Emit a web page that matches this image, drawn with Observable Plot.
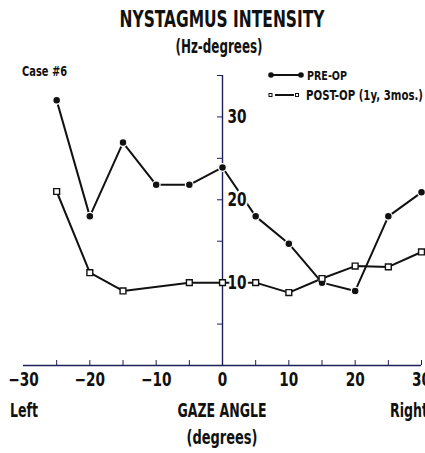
<!DOCTYPE html>
<html><head><meta charset="utf-8">
<script src="https://cdn.jsdelivr.net/npm/d3@7"></script>
<script src="https://cdn.jsdelivr.net/npm/@observablehq/plot@0.6"></script>
<style>
html,body{margin:0;padding:0;background:#fff;}
</style>
</head><body>
<script>
const angles = [-25, -20, -15, -10, -5, 0, 5, 10, 15, 20, 25, 30];
const preOp  = [32.0, 18.0, 26.9, 21.8, 21.8, 23.9, 18.0, 14.7, 10.0, 9.0, 18.0, 20.9];
const postOp = [21.0, 11.2, 9.0, null, 10.0, 10.0, 10.0, 8.8, 10.5, 12.0, 11.9, 13.7];
const xTickLabels = [-30, -20, -10, 0, 10, 20, 30];
const xMinorTicks = [-25, -20, -15, -10, -5, 5, 10, 15, 20, 25, 30];
const yTickLabels = [10, 20, 30];
const yMinorTicks = [5, 10, 15, 20, 25, 30, 35];
const legendLabels = ["PRE-OP", "POST-OP (1y, 3mos.)"];
const titleText = "NYSTAGMUS INTENSITY";
const subtitleText = "(Hz-degrees)";
const caseText = "Case #6";
const xLabelText = "GAZE ANGLE";
const xUnitText = "(degrees)";
const leftText = "Left";
const rightText = "Right";

const pre = angles.map((a, i) => ({angle: a, value: preOp[i]}));
const post = angles.map((a, i) => ({angle: a, value: postOp[i]})).filter(d => d.value != null);

const FONT = "'Liberation Sans Narrow', 'DejaVu Sans Condensed', 'Liberation Sans', sans-serif";
const NAVY = "#1c1f5c";
const fmt = d => d < 0 ? "\u2212" + (-d) : String(d);

const svg = Plot.plot({
  width: 425, height: 453,
  marginLeft: 23, marginRight: 4, marginTop: 75, marginBottom: 88,
  x: {domain: [-30, 30], axis: null},
  y: {domain: [0, 35], axis: null},
  style: {fontFamily: FONT, background: "white", overflow: "visible"},
  marks: [
    Plot.ruleY([0], {stroke: NAVY, strokeWidth: 1.6}),
    Plot.ruleX([0], {y1: 0, y2: 35, stroke: NAVY, strokeWidth: 1.4}),
    Plot.ruleX(xMinorTicks, {x: d => d, y1: 0, y2: 0.6, stroke: NAVY, strokeWidth: 1}),
    Plot.ruleY(yMinorTicks, {y: d => d, x1: -0.75, x2: 0, stroke: NAVY, strokeWidth: 1}),
    Plot.line(pre, {x: "angle", y: "value", stroke: "#111", strokeWidth: 2}),
    Plot.line(post, {x: "angle", y: "value", stroke: "#111", strokeWidth: 2}),
    Plot.dot(pre, {x: "angle", y: "value", r: 3.9, fill: "#111", stroke: "white", strokeWidth: 1.3}),
    Plot.dot(post, {x: "angle", y: "value", symbol: "square", r: 3.3, fill: "white", stroke: "#111", strokeWidth: 1.4}),
    Plot.text(yTickLabels, {x: 0, y: d => d, text: d => String(d), dx: 5, textAnchor: "start",
      fontSize: 19, fontWeight: "bold", fill: "#111", stroke: "white", strokeWidth: 5}),
    Plot.text(xTickLabels, {x: d => d, y: 0, text: fmt, dy: 7, lineAnchor: "top",
      fontSize: 19, fontWeight: "bold", fill: "#111"})
  ]
});
document.body.append(svg);

// compress Plot tick labels horizontally (condensed typeface look)
d3.select(svg).selectAll("text").each(function() {
  const w = this.getComputedTextLength();
  this.setAttribute("textLength", (w * 0.8).toFixed(1));
  this.setAttribute("lengthAdjust", "spacingAndGlyphs");
});

const s = d3.select(svg);
function label(txt, x, y, size, width, anchor) {
  s.append("text").attr("x", x).attr("y", y)
    .attr("text-anchor", anchor || "middle")
    .attr("font-family", FONT).attr("font-weight", "bold")
    .attr("font-size", size).attr("fill", "#111")
    .attr("textLength", width).attr("lengthAdjust", "spacingAndGlyphs")
    .text(txt);
}
label(titleText, 222, 27, 23, 205);
label(subtitleText, 219, 53, 19, 87);
label(caseText, 22, 76, 14, 45, "start");
label(leftText, 10, 417, 19, 28, "start");
label(xLabelText, 222, 417, 19, 89);
label(rightText, 390, 417, 19, 38, "start");
label(xUnitText, 222, 444, 19, 71);

// legend
const lg = s.append("g");
lg.append("line").attr("x1", 271).attr("x2", 301).attr("y1", 75).attr("y2", 75).attr("stroke", "#111").attr("stroke-width", 2);
lg.append("circle").attr("cx", 271).attr("cy", 75).attr("r", 2.8).attr("fill", "#111");
lg.append("circle").attr("cx", 301).attr("cy", 75).attr("r", 2.8).attr("fill", "#111");
lg.append("line").attr("x1", 275).attr("x2", 294).attr("y1", 95).attr("y2", 95).attr("stroke", "#111").attr("stroke-width", 2);
lg.append("rect").attr("x", 269).attr("y", 93.5).attr("width", 3).attr("height", 3).attr("fill", "white").attr("stroke", "#111").attr("stroke-width", 1);
lg.append("rect").attr("x", 295.5).attr("y", 93.5).attr("width", 3).attr("height", 3).attr("fill", "white").attr("stroke", "#111").attr("stroke-width", 1);
label(legendLabels[0], 307, 80, 13, 40, "start");
label(legendLabels[1], 306, 100, 14, 117, "start");
</script>
</body></html>
